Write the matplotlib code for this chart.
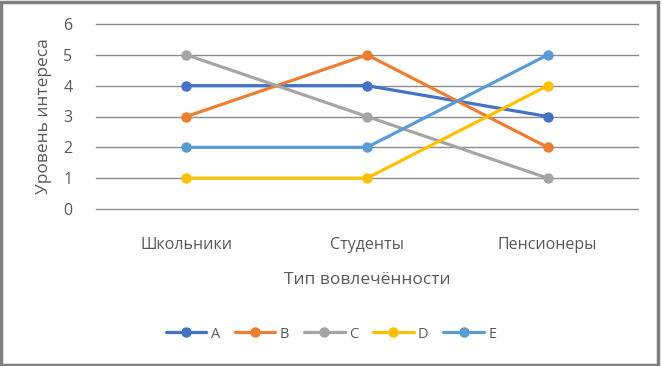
import matplotlib
matplotlib.use("Agg")
import matplotlib.pyplot as plt
from matplotlib.patches import Rectangle

categories = ["Школьники", "Студенты", "Пенсионеры"]
series_names = ["A", "B", "C", "D", "E"]
A = [4, 4, 3]
B = [3, 5, 2]
C = [5, 3, 1]
D = [1, 1, 4]
E = [2, 2, 5]
values = [A, B, C, D, E]
colors = ["#4472C4", "#ED7D31", "#A5A5A5", "#FFC000", "#5B9BD5"]
yticks = [0, 1, 2, 3, 4, 5, 6]

plt.rcParams['font.family'] = ['Open Sans', 'DejaVu Sans']
txt = "#595959"

fig = plt.figure(figsize=(6.62, 3.66), dpi=100)
ax = fig.add_axes([96/662, 1-209/366, (638-96)/662, (209-24)/366])

x = list(range(len(categories)))
for name, vals, c in zip(series_names, values, colors):
    ax.plot(x, vals, color=c, lw=2.3, marker='o', ms=6.5, label=name,
            solid_capstyle='round', zorder=3)

ax.set_xlim(-0.5, 2.5)
ax.set_ylim(0, 6)
ax.set_yticks(yticks)
ax.set_xticks(x)
ax.set_xticklabels(categories)
ax.grid(axis='y', color='#8c8c8c', lw=1)
for gl in ax.get_ygridlines():
    gl.set_clip_on(False)
ax.set_axisbelow(True)
for s in ax.spines.values():
    s.set_visible(False)
ax.tick_params(length=0, colors=txt, labelsize=11.5)
ax.tick_params(axis='x', pad=20)
ax.tick_params(axis='y', pad=17)
ax.set_xlabel("Тип вовлечённости", color=txt, fontsize=12.5, labelpad=14)
ax.set_ylabel("Уровень интереса", color=txt, fontsize=12.5, labelpad=8)

leg = fig.legend(loc='center', bbox_to_anchor=(0.5, 1-334/366), ncol=5, frameon=False,
                 fontsize=10.5, handlelength=2.8, columnspacing=1.0, handletextpad=0.3)
for t in leg.get_texts():
    t.set_color(txt)

fig.patches.append(Rectangle((0.002, 0.004), 0.992, 0.99, transform=fig.transFigure,
                             fill=False, edgecolor='#7f7f7f', lw=2.5))
fig.savefig("out.png", dpi=100)
